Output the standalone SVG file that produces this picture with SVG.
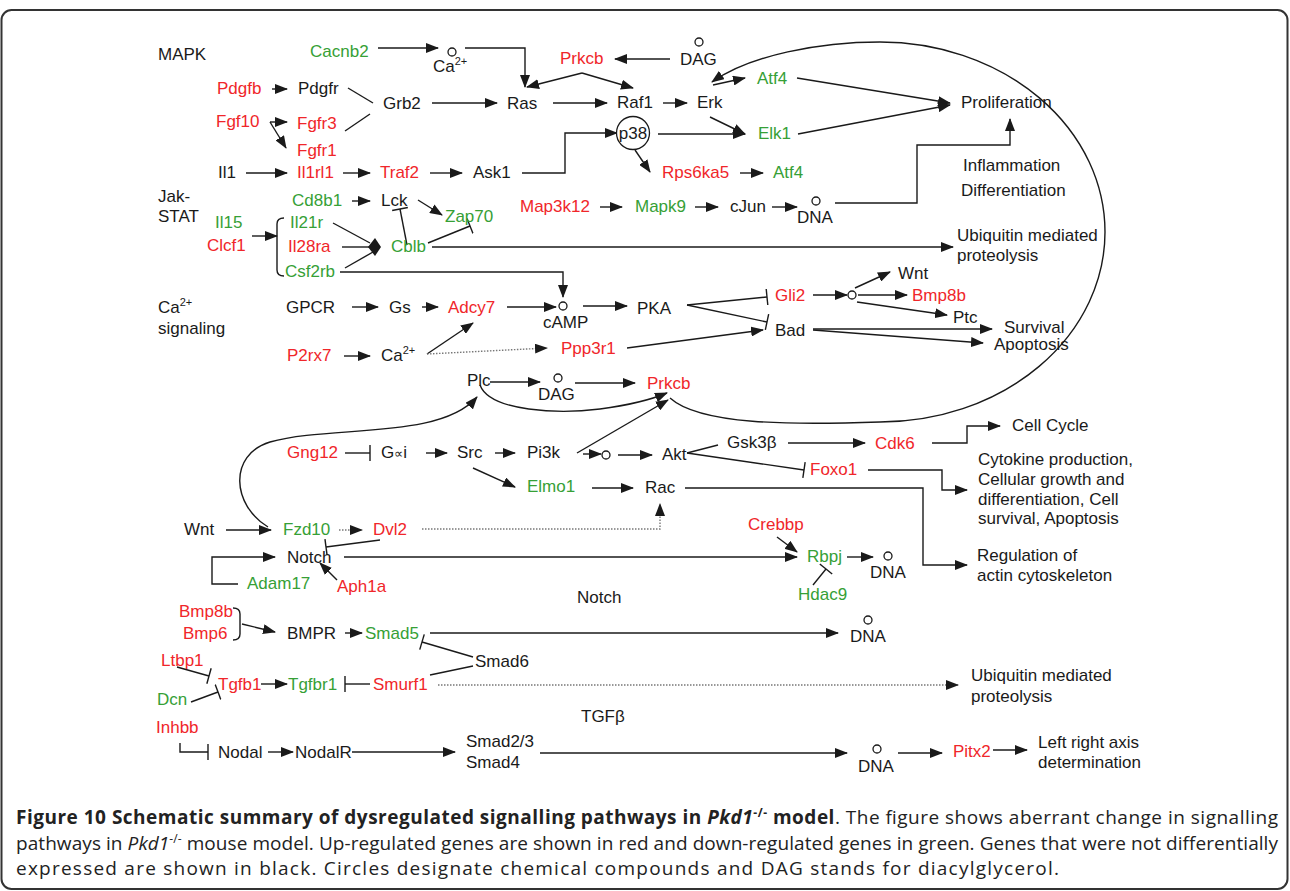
<svg xmlns="http://www.w3.org/2000/svg" width="1290" height="891" viewBox="0 0 1290 891">
<style>
.n{font-family:"Liberation Sans",Arial,sans-serif;font-size:17px;fill:#1a1a1a}
.r{fill:#f0262a}
.g{fill:#36a036}
.e{fill:none;stroke:#1a1a1a;stroke-width:1.4}
.a{marker-end:url(#ah)}
.i{marker-end:url(#tb)}
.dt{stroke:#777;stroke-dasharray:1.5 1.5}
.cmp{fill:#fff;stroke:#1a1a1a;stroke-width:1.3}
.cap{font-family:"Open Sans","Noto Sans",sans-serif;font-size:19px;fill:#222}
.sup{font-size:11px}
</style>
<defs>
<marker id="ah" markerUnits="userSpaceOnUse" viewBox="0 0 13 10" refX="12" refY="5" markerWidth="13" markerHeight="10" orient="auto"><path d="M0,0L13,5L0,10z" fill="#1a1a1a"/></marker>
<marker id="tb" markerUnits="userSpaceOnUse" viewBox="0 0 4 16" refX="2" refY="8" markerWidth="4" markerHeight="16" orient="auto"><path d="M2,0V16" stroke="#1a1a1a" stroke-width="1.4"/></marker>
</defs>
<rect x="1.5" y="10" width="1286" height="879" rx="10" fill="#fff" stroke="#333" stroke-width="2"/>

<g id="connectors">
<path class="e a" d="M378,48H438"/>
<path class="e a" d="M465,48H525V87"/>
<path class="e a" d="M582,73L527,87"/>
<path class="e a" d="M582,73L633,88"/>
<path class="e a" d="M670,59H615"/>
<path class="e a" d="M272,89H287"/>
<path class="e" d="M348,88L373,103"/>
<path class="e" d="M345,131L370,114"/>
<path class="e a" d="M432,103H497"/>
<path class="e a" d="M553,103H607"/>
<path class="e a" d="M663,103H687"/>
<path class="e a" d="M270,122H287"/>
<path class="e a" d="M270,122L286,148"/>
<path class="e a" d="M246,173H287"/>
<path class="e a" d="M343,173H370"/>
<path class="e a" d="M430,173H462"/>
<path class="e a" d="M522,173H565V133H617"/>
<path class="e a" d="M713,85L745,78"/>
<path class="e a" d="M797,78L950,103"/>
<path class="e a" d="M798,134L950,105"/>
<path class="e a" d="M710,117L745,134"/>
<path class="e a" d="M658,134H745"/>
<path class="e a" d="M635,150L650,172"/>
<path class="e a" d="M740,173H763"/>
<path class="e a" d="M600,207H622"/>
<path class="e a" d="M695,207H718"/>
<path class="e a" d="M772,207H797"/>
<path class="e a" d="M835,203H917V145H1010V119"/>
<path class="e a" d="M352,201H370"/>
<path class="e a" d="M418,200L442,215"/>
<path class="e a" d="M252,236H277"/>
<path class="e" d="M284,218Q277,218 277,224V270Q277,276 284,276"/>
<path class="e" d="M333,223L370,243"/>
<path class="e" d="M342,247H370"/>
<path class="e" d="M345,268L373,252"/>
<polygon points="368,247 375,238 381,247 375,256" fill="#1a1a1a"/>
<path class="e i" d="M407,245L400,209"/>
<path class="e i" d="M428,243L470,226"/>
<path class="e a" d="M432,247H953"/>
<path class="e a" d="M340,272H563V297"/>
<path class="e a" d="M352,307H378"/>
<path class="e a" d="M422,307H438"/>
<path class="e a" d="M507,307H556"/>
<path class="e a" d="M583,306H627"/>
<path class="e a" d="M344,356H370"/>
<path class="e a" d="M427,354L473,323"/>
<path class="e a dt" d="M427,354L547,348"/>
<path class="e a" d="M627,348L763,330"/>
<path class="e i" d="M687,305L767,297"/>
<path class="e i" d="M687,305L767,322"/>
<path class="e a" d="M813,295H847"/>
<path class="e a" d="M855,288L890,272"/>
<path class="e a" d="M858,295H907"/>
<path class="e a" d="M857,302L947,315"/>
<path class="e a" d="M813,329H992"/>
<path class="e a" d="M813,330L983,343"/>
<path class="e a" d="M490,382H540"/>
<path class="e a" d="M575,383H635"/>
<path class="e a" d="M480,385C490,412 560,414 600,409C630,405 655,398 667,393"/>
<path class="e a" d="M577,453L668,400"/>
<path class="e a" d="M670,398C700,425 790,425 880,422A225,190 0 0 0 880,42C820,42 750,55 712,82"/>
<path class="e a" d="M268,527C232,505 228,455 270,442C330,425 440,440 477,397"/>
<path class="e i" d="M345,453H370"/>
<path class="e a" d="M426,453H447"/>
<path class="e a" d="M495,453H515"/>
<path class="e a" d="M473,468L515,487"/>
<path class="e a" d="M583,454H601"/>
<path class="e a" d="M618,455H652"/>
<path class="e" d="M687,453L718,445"/>
<path class="e a" d="M788,443H865"/>
<path class="e a" d="M932,443H967V426H1000"/>
<path class="e i" d="M687,453L804,470"/>
<path class="e a" d="M868,470H942V490H967"/>
<path class="e a" d="M592,488H633"/>
<path class="e a" d="M685,488H923V565H967"/>
<path class="e a" d="M226,530H271"/>
<path class="e a dt" d="M339,530H362"/>
<path class="e a dt" d="M422,529H660V504"/>
<path class="e i" d="M380,540L326,547"/>
<path class="e a" d="M238,584H212V557H275"/>
<path class="e a" d="M337,580L320,563"/>
<path class="e a" d="M344,557H797"/>
<path class="e a" d="M777,537L797,552"/>
<path class="e a" d="M847,557H873"/>
<path class="e i" d="M813,585L826,569"/>
<path class="e" d="M233,608Q240,608 240,614V634Q240,640 233,640"/>
<path class="e a" d="M242,624L275,632"/>
<path class="e a" d="M345,633H362"/>
<path class="e a" d="M430,633H838"/>
<path class="e i" d="M473,657L422,642"/>
<path class="e" d="M430,675L473,666"/>
<path class="e i" d="M177,667L209,676"/>
<path class="e i" d="M191,702L218,692"/>
<path class="e a" d="M261,684H287"/>
<path class="e i" d="M370,684H345"/>
<path class="e a dt" d="M438,685H958"/>
<path class="e i" d="M180,743V752H208"/>
<path class="e a" d="M268,752H293"/>
<path class="e a" d="M352,752H455"/>
<path class="e a" d="M540,753H847"/>
<path class="e a" d="M898,753H942"/>
<path class="e a" d="M993,750H1027"/>
</g>

<g id="labels">
<text class="n" x="158" y="60">MAPK</text>
<text class="n" x="158" y="202">Jak-</text>
<text class="n" x="158" y="222">STAT</text>
<text class="n" x="158" y="313">Ca<tspan class="sup" dy="-7">2+</tspan></text>
<text class="n" x="158" y="334">signaling</text>
<text class="n" x="577" y="603">Notch</text>
<text class="n" x="581" y="722">TGFβ</text>
</g>

<g id="n-cacnb2"><text class="n g" x="310" y="57">Cacnb2</text></g>
<g id="n-ca1"><circle class="cmp" cx="452" cy="52" r="4"/><text class="n" x="433" y="72">Ca<tspan class="sup" dy="-7">2+</tspan></text></g>
<g id="n-pdgfb"><text class="n r" x="217" y="94">Pdgfb</text></g>
<g id="n-pdgfr"><text class="n" x="298" y="94">Pdgfr</text></g>
<g id="n-grb2"><text class="n" x="383" y="109">Grb2</text></g>
<g id="n-ras"><text class="n" x="507" y="109">Ras</text></g>
<g id="n-fgf10"><text class="n r" x="216" y="127">Fgf10</text></g>
<g id="n-fgfr3"><text class="n r" x="297" y="129">Fgfr3</text></g>
<g id="n-fgfr1"><text class="n r" x="297" y="156">Fgfr1</text></g>
<g id="n-il1"><text class="n" x="218" y="178">Il1</text></g>
<g id="n-il1rl1"><text class="n r" x="297" y="178">Il1rl1</text></g>
<g id="n-traf2"><text class="n r" x="380" y="178">Traf2</text></g>
<g id="n-ask1"><text class="n" x="473" y="178">Ask1</text></g>
<g id="n-prkcb1"><text class="n r" x="560" y="64">Prkcb</text></g>
<g id="n-dag1"><circle class="cmp" cx="699" cy="42" r="4"/><text class="n" x="680" y="65">DAG</text></g>
<g id="n-raf1"><text class="n" x="617" y="108">Raf1</text></g>
<g id="n-erk"><text class="n" x="697" y="108">Erk</text></g>
<g id="n-atf4a"><text class="n g" x="757" y="84">Atf4</text></g>
<g id="n-elk1"><text class="n g" x="758" y="139">Elk1</text></g>
<g id="n-p38"><circle cx="633" cy="133" r="16.5" fill="#fff" stroke="#1a1a1a" stroke-width="1.3"/><text class="n" x="633" y="139" text-anchor="middle">p38</text></g>
<g id="n-rps6ka5"><text class="n r" x="662" y="178">Rps6ka5</text></g>
<g id="n-atf4b"><text class="n g" x="773" y="178">Atf4</text></g>
<g id="n-map3k12"><text class="n r" x="520" y="212">Map3k12</text></g>
<g id="n-mapk9"><text class="n g" x="635" y="212">Mapk9</text></g>
<g id="n-cjun"><text class="n" x="730" y="212">cJun</text></g>
<g id="n-dna1"><circle class="cmp" cx="816" cy="201" r="4"/><text class="n" x="797" y="223">DNA</text></g>
<g id="n-prolif"><text class="n" x="961" y="108">Proliferation</text></g>
<g id="n-inflam"><text class="n" x="963" y="171">Inflammation</text></g>
<g id="n-diff"><text class="n" x="961" y="196">Differentiation</text></g>
<g id="n-cd8b1"><text class="n g" x="292" y="206">Cd8b1</text></g>
<g id="n-lck"><text class="n" x="381" y="206">Lck</text></g>
<g id="n-zap70"><text class="n g" x="445" y="222">Zap70</text></g>
<g id="n-il15"><text class="n g" x="215" y="228">Il15</text></g>
<g id="n-clcf1"><text class="n r" x="207" y="251">Clcf1</text></g>
<g id="n-il21r"><text class="n g" x="290" y="228">Il21r</text></g>
<g id="n-il28ra"><text class="n r" x="288" y="252">Il28ra</text></g>
<g id="n-csf2rb"><text class="n g" x="285" y="277">Csf2rb</text></g>
<g id="n-cblb"><text class="n g" x="391" y="252">Cblb</text></g>
<g id="n-ubi1"><text class="n" x="957" y="241">Ubiquitin mediated</text><text class="n" x="957" y="261">proteolysis</text></g>
<g id="n-gpcr"><text class="n" x="286" y="313">GPCR</text></g>
<g id="n-gs"><text class="n" x="389" y="313">Gs</text></g>
<g id="n-adcy7"><text class="n r" x="448" y="313">Adcy7</text></g>
<g id="n-camp"><circle class="cmp" cx="563" cy="306" r="4"/><text class="n" x="543" y="328">cAMP</text></g>
<g id="n-pka"><text class="n" x="637" y="314">PKA</text></g>
<g id="n-p2rx7"><text class="n r" x="287" y="361">P2rx7</text></g>
<g id="n-ca2"><text class="n" x="381" y="361">Ca<tspan class="sup" dy="-7">2+</tspan></text></g>
<g id="n-ppp3r1"><text class="n r" x="561" y="354">Ppp3r1</text></g>
<g id="n-gli2"><text class="n r" x="775" y="301">Gli2</text></g>
<g id="n-bad"><text class="n" x="775" y="336">Bad</text></g>
<g id="n-c1"><circle class="cmp" cx="852" cy="295" r="4"/></g>
<g id="n-wnt1"><text class="n" x="898" y="279">Wnt</text></g>
<g id="n-bmp8b1"><text class="n r" x="912" y="301">Bmp8b</text></g>
<g id="n-ptc"><text class="n" x="953" y="323">Ptc</text></g>
<g id="n-surv"><text class="n" x="1004" y="333">Survival</text><text class="n" x="994" y="350">Apoptosis</text></g>
<g id="n-plc"><text class="n" x="467" y="386">Plc</text></g>
<g id="n-dag2"><circle class="cmp" cx="558" cy="378" r="4"/><text class="n" x="538" y="400">DAG</text></g>
<g id="n-prkcb2"><text class="n r" x="647" y="389">Prkcb</text></g>
<g id="n-gng12"><text class="n r" x="287" y="458">Gng12</text></g>
<g id="n-gai"><text class="n" x="381" y="458">G<tspan font-size="13">∝</tspan>i</text></g>
<g id="n-src"><text class="n" x="457" y="458">Src</text></g>
<g id="n-pi3k"><text class="n" x="527" y="458">Pi3k</text></g>
<g id="n-c2"><circle class="cmp" cx="606" cy="455" r="4"/></g>
<g id="n-akt"><text class="n" x="662" y="460">Akt</text></g>
<g id="n-elmo1"><text class="n g" x="527" y="492">Elmo1</text></g>
<g id="n-rac"><text class="n" x="645" y="493">Rac</text></g>
<g id="n-gsk3b"><text class="n" x="727" y="448">Gsk3β</text></g>
<g id="n-cdk6"><text class="n r" x="875" y="449">Cdk6</text></g>
<g id="n-cellcycle"><text class="n" x="1012" y="431">Cell Cycle</text></g>
<g id="n-foxo1"><text class="n r" x="810" y="475">Foxo1</text></g>
<g id="n-cytokine"><text class="n" x="978" y="465">Cytokine production,</text><text class="n" x="978" y="485">Cellular growth and</text><text class="n" x="978" y="505">differentiation, Cell</text><text class="n" x="978" y="524">survival, Apoptosis</text></g>
<g id="n-regact"><text class="n" x="977" y="561">Regulation of</text><text class="n" x="977" y="581">actin cytoskeleton</text></g>
<g id="n-wnt2"><text class="n" x="184" y="535">Wnt</text></g>
<g id="n-fzd10"><text class="n g" x="283" y="535">Fzd10</text></g>
<g id="n-dvl2"><text class="n r" x="373" y="535">Dvl2</text></g>
<g id="n-notch"><text class="n" x="287" y="563">Notch</text></g>
<g id="n-adam17"><text class="n g" x="247" y="589">Adam17</text></g>
<g id="n-aph1a"><text class="n r" x="337" y="592">Aph1a</text></g>
<g id="n-crebbp"><text class="n r" x="748" y="530">Crebbp</text></g>
<g id="n-rbpj"><text class="n g" x="807" y="562">Rbpj</text></g>
<g id="n-dna2"><circle class="cmp" cx="888" cy="556" r="4"/><text class="n" x="870" y="578">DNA</text></g>
<g id="n-hdac9"><text class="n g" x="798" y="600">Hdac9</text></g>
<g id="n-bmp8b2"><text class="n r" x="179" y="617">Bmp8b</text></g>
<g id="n-bmp6"><text class="n r" x="183" y="639">Bmp6</text></g>
<g id="n-bmpr"><text class="n" x="287" y="639">BMPR</text></g>
<g id="n-smad5"><text class="n g" x="365" y="639">Smad5</text></g>
<g id="n-dna3"><circle class="cmp" cx="868" cy="620" r="4"/><text class="n" x="850" y="642">DNA</text></g>
<g id="n-smad6"><text class="n" x="475" y="667">Smad6</text></g>
<g id="n-ltbp1"><text class="n r" x="161" y="666">Ltbp1</text></g>
<g id="n-tgfb1"><text class="n r" x="218" y="690">Tgfb1</text></g>
<g id="n-dcn"><text class="n g" x="157" y="705">Dcn</text></g>
<g id="n-tgfbr1"><text class="n g" x="288" y="690">Tgfbr1</text></g>
<g id="n-smurf1"><text class="n r" x="373" y="690">Smurf1</text></g>
<g id="n-ubi2"><text class="n" x="971" y="681">Ubiquitin mediated</text><text class="n" x="971" y="702">proteolysis</text></g>
<g id="n-inhbb"><text class="n r" x="156" y="733">Inhbb</text></g>
<g id="n-nodal"><text class="n" x="218" y="758">Nodal</text></g>
<g id="n-nodalr"><text class="n" x="295" y="758">NodalR</text></g>
<g id="n-smad23"><text class="n" x="466" y="747">Smad2/3</text><text class="n" x="466" y="768">Smad4</text></g>
<g id="n-dna4"><circle class="cmp" cx="877" cy="749" r="4"/><text class="n" x="858" y="772">DNA</text></g>
<g id="n-pitx2"><text class="n r" x="953" y="757">Pitx2</text></g>
<g id="n-lr"><text class="n" x="1038" y="748">Left right axis</text><text class="n" x="1038" y="768">determination</text></g>

<g id="caption">
<text class="cap" x="16" y="824" textLength="1262" lengthAdjust="spacing"><tspan font-weight="bold">Figure 10 Schematic summary of dysregulated signalling pathways in </tspan><tspan font-weight="bold" font-style="italic">Pkd1</tspan><tspan font-weight="bold" font-size="12" dy="-7">-/-</tspan><tspan font-weight="bold" dy="7"> model</tspan>. The figure shows aberrant change in signalling</text>
<text class="cap" x="16" y="850" textLength="1262" lengthAdjust="spacing">pathways in <tspan font-style="italic">Pkd1</tspan><tspan font-size="12" dy="-7">-/-</tspan><tspan dy="7"> mouse model. Up-regulated genes are shown in red and down-regulated genes in green. Genes that were not differentially</tspan></text>
<text class="cap" x="16" y="875" textLength="1043" lengthAdjust="spacing">expressed are shown in black. Circles designate chemical compounds and DAG stands for diacylglycerol.</text>
</g>
</svg>
